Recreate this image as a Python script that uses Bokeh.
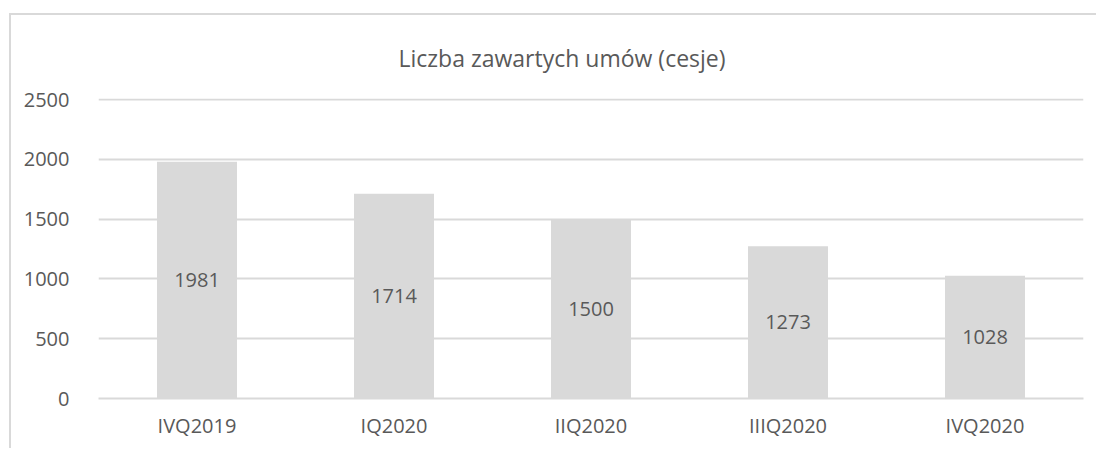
from bokeh.plotting import figure
from bokeh.models import ColumnDataSource, LabelSet, Range1d, FactorRange, SingleIntervalTicker
from bokeh.core.properties import value
from bokeh.embed import file_html
from bokeh.resources import INLINE

title_text = "Liczba zawartych umów (cesje)"
categories = ["IVQ2019", "IQ2020", "IIQ2020", "IIIQ2020", "IVQ2020"]
values = [1981, 1714, 1500, 1273, 1028]

FONT = "Open Sans"
TXT = "#595959"
GRID = "#d9d9d9"
BAR = "#d9d9d9"

src = ColumnDataSource(dict(
    cat=categories,
    val=values,
    mid=[v / 2 for v in values],
    lab=[str(v) for v in values],
))

p = figure(
    width=1087, height=435,
    x_range=FactorRange(*categories),
    y_range=Range1d(0, 2510),
    output_backend="svg", toolbar_location=None,
    min_border_left=87, min_border_right=15, min_border_top=82, min_border_bottom=52,
)
p.styles = {
    "margin-left": "9px", "margin-top": "13px",
    "border-left": f"2px solid {GRID}", "border-top": f"2px solid {GRID}",
}
p.outline_line_color = None
p.background_fill_color = "white"
p.border_fill_color = "white"

p.title.text = title_text
p.title.align = "left"
p.title.offset = 300
p.title.standoff = 49
p.title.text_font = FONT
p.title.text_font_size = "23px"
p.title.text_font_style = "normal"
p.title.text_color = TXT

p.vbar(x="cat", top="val", width=0.406, source=src, fill_color=BAR, line_color=None)

labels = LabelSet(x="cat", y="mid", text="lab", source=src,
                  text_align="center", text_baseline="middle",
                  text_font=value(FONT), text_font_size="20px", text_color=TXT)
p.add_layout(labels)

p.xgrid.grid_line_color = None
p.ygrid.grid_line_color = GRID
p.ygrid.grid_line_width = 2
p.yaxis.ticker = SingleIntervalTicker(interval=500)

for ax in (p.xaxis[0], p.yaxis[0]):
    ax.major_tick_line_color = None
    ax.minor_tick_line_color = None
    ax.major_label_text_font = FONT
    ax.major_label_text_font_size = "20px"
    ax.major_label_text_color = TXT
p.yaxis.axis_line_color = None
p.yaxis.major_label_standoff = 23
p.xaxis.axis_line_color = GRID
p.xaxis.axis_line_width = 2
p.xaxis.major_label_standoff = 7

open("out.html", "w").write(file_html(p, INLINE))
